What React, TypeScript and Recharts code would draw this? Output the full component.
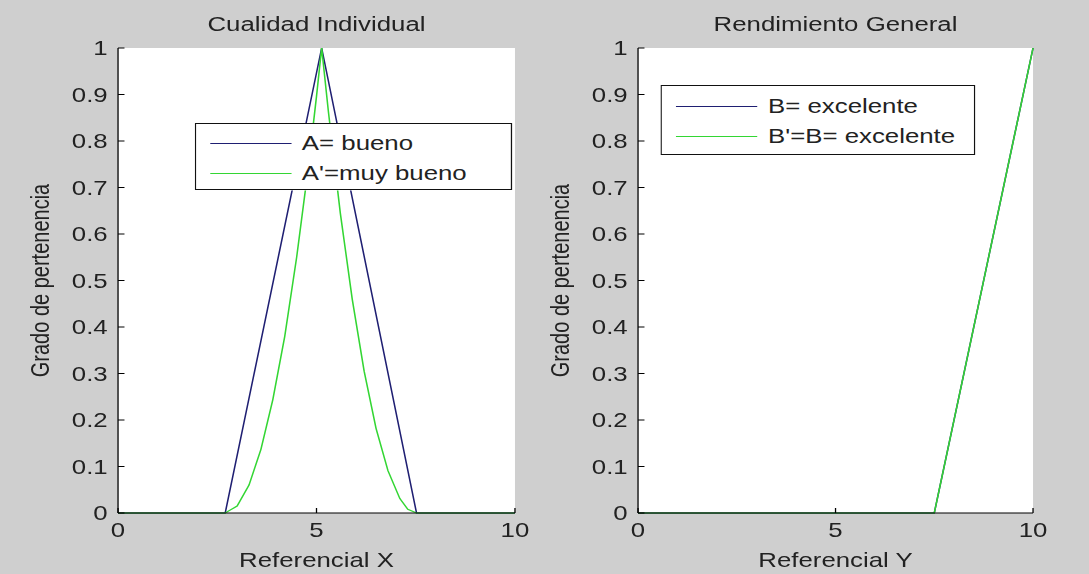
import { LineChart, Line, XAxis, YAxis, CartesianGrid, Legend, Label } from "recharts";

// membership values
const bueno = [
  { x: 0, y: 0 },
  { x: 2.7, y: 0 },
  { x: 5.13, y: 1 },
  { x: 7.52, y: 0 },
  { x: 10, y: 0 },
];

const muyBueno = [
  { x: 0, y: 0 },
  { x: 2.7, y: 0 },
  { x: 3.0, y: 0.015 },
  { x: 3.3, y: 0.06 },
  { x: 3.6, y: 0.137 },
  { x: 3.9, y: 0.244 },
  { x: 4.2, y: 0.38 },
  { x: 4.5, y: 0.55 },
  { x: 4.8, y: 0.747 },
  { x: 5.0, y: 0.896 },
  { x: 5.13, y: 1 },
  { x: 5.3, y: 0.863 },
  { x: 5.6, y: 0.645 },
  { x: 5.9, y: 0.46 },
  { x: 6.2, y: 0.305 },
  { x: 6.5, y: 0.182 },
  { x: 6.8, y: 0.091 },
  { x: 7.1, y: 0.031 },
  { x: 7.3, y: 0.008 },
  { x: 7.52, y: 0 },
  { x: 10, y: 0 },
];

const excelente = [
  { x: 0, y: 0 },
  { x: 7.5, y: 0 },
  { x: 10, y: 1 },
];

const excelenteB = [
  { x: 0, y: 0 },
  { x: 7.5, y: 0 },
  { x: 10, y: 1 },
];

const xTicks = [0, 5, 10];
const yTicks = [0, 0.1, 0.2, 0.3, 0.4, 0.5, 0.6, 0.7, 0.8, 0.9, 1];

const BLUE = "#1f1f72";
const GREEN = "#33d633";
const TXT = "#222";
const S = 1.29; // the original figure is stretched sideways

const tickStyle = { fontSize: 20, fill: TXT };

function legendBox(box, order) {
  return (props) => {
    const items = [...(props.payload || [])].sort(
      (a, b) => order.indexOf(a.value) - order.indexOf(b.value)
    );
    return (
      <div
        style={{
          width: box.width,
          height: box.height,
          boxSizing: "border-box",
          border: "1px solid #111",
          background: "#fff",
          paddingTop: box.padTop,
          fontSize: 20,
          color: TXT,
        }}
      >
        {items.map((p) => (
          <div key={p.value} style={{ display: "flex", alignItems: "center", height: 30 }}>
            <div style={{ marginLeft: 11, width: 63, height: 0, borderTop: `1.5px solid ${p.color}` }} />
            <span style={{ marginLeft: 8, whiteSpace: "nowrap" }}>{p.value}</span>
          </div>
        ))}
      </div>
    );
  };
}

function Panel({ title, xLabel, yAxisW, right, labelOff, legend, series }) {
  const plotLeft = yAxisW;
  const plotRight = 422 - right;
  const order = series.map((s) => s.name);
  return (
    <div style={{ position: "relative", width: 422, height: 574 }}>
      <div
        style={{
          position: "absolute",
          top: 14,
          left: plotLeft,
          width: plotRight - plotLeft,
          textAlign: "center",
          fontSize: 20,
          lineHeight: "20px",
          color: TXT,
        }}
      >
        {title}
      </div>
      <LineChart width={422} height={574} margin={{ top: 48, right, bottom: 0, left: 0 }}>
        <CartesianGrid fill="#fff" horizontal={false} vertical={false} />
        <XAxis
          type="number"
          dataKey="x"
          domain={[0, 10]}
          ticks={xTicks}
          interval={0}
          height={61}
          tickSize={-5}
          tickMargin={15}
          tick={tickStyle}
          axisLine={{ stroke: "#000" }}
          tickLine={{ stroke: "#000" }}
        >
          <Label value={xLabel} position="insideBottom" offset={7} style={{ fontSize: 20, fill: TXT }} />
        </XAxis>
        <YAxis
          type="number"
          dataKey="y"
          domain={[0, 1]}
          ticks={yTicks}
          interval={0}
          width={yAxisW}
          tickSize={-5}
          tickMargin={13}
          tick={tickStyle}
          tickFormatter={(v) => String(v)}
          axisLine={{ stroke: "#000" }}
          tickLine={{ stroke: "#000" }}
        >
          <Label
            value="Grado de pertenencia"
            angle={-90}
            position="insideLeft"
            offset={labelOff}
            style={{ textAnchor: "middle", fontSize: 20, fill: TXT }}
          />
        </YAxis>
        <Legend
          layout="horizontal"
          verticalAlign="middle"
          align="center"
          content={legendBox(legend, order)}
          wrapperStyle={{ left: legend.left, top: legend.top, width: legend.width }}
        />
        {series.map((s) => (
          <Line
            key={s.name}
            data={s.data}
            dataKey="y"
            name={s.name}
            type="linear"
            stroke={s.color}
            strokeWidth={1.2}
            dot={false}
            activeDot={false}
            legendType="line"
            isAnimationActive={false}
          />
        ))}
      </LineChart>
    </div>
  );
}

export default function App() {
  return (
    <div
      style={{
        position: "absolute",
        left: 0,
        top: 0,
        width: 1089,
        height: 574,
        overflow: "hidden",
        background: "#cfcfcf",
        fontFamily: "'Liberation Sans', Arial, sans-serif",
      }}
    >
      <div
        style={{
          display: "flex",
          width: 844,
          height: 574,
          transform: `scaleX(${S})`,
          transformOrigin: "0 0",
        }}
      >
        <Panel
          title="Cualidad Individual"
          xLabel="Referencial X"
          yAxisW={91.5}
          right={22.8}
          labelOff={31}
          legend={{ left: 151, top: 123, width: 246, height: 67, padTop: 4 }}
          series={[
            { name: "A= bueno", data: bueno, color: BLUE },
            { name: "A'=muy bueno", data: muyBueno, color: GREEN },
          ]}
        />
        <Panel
          title="Rendimiento General"
          xLabel="Referencial Y"
          yAxisW={72.6}
          right={43.2}
          labelOff={12}
          legend={{ left: 90.4, top: 85, width: 243.4, height: 70, padTop: 5 }}
          series={[
            { name: "B= excelente", data: excelente, color: BLUE },
            { name: "B'=B= excelente", data: excelenteB, color: GREEN },
          ]}
        />
      </div>
    </div>
  );
}
